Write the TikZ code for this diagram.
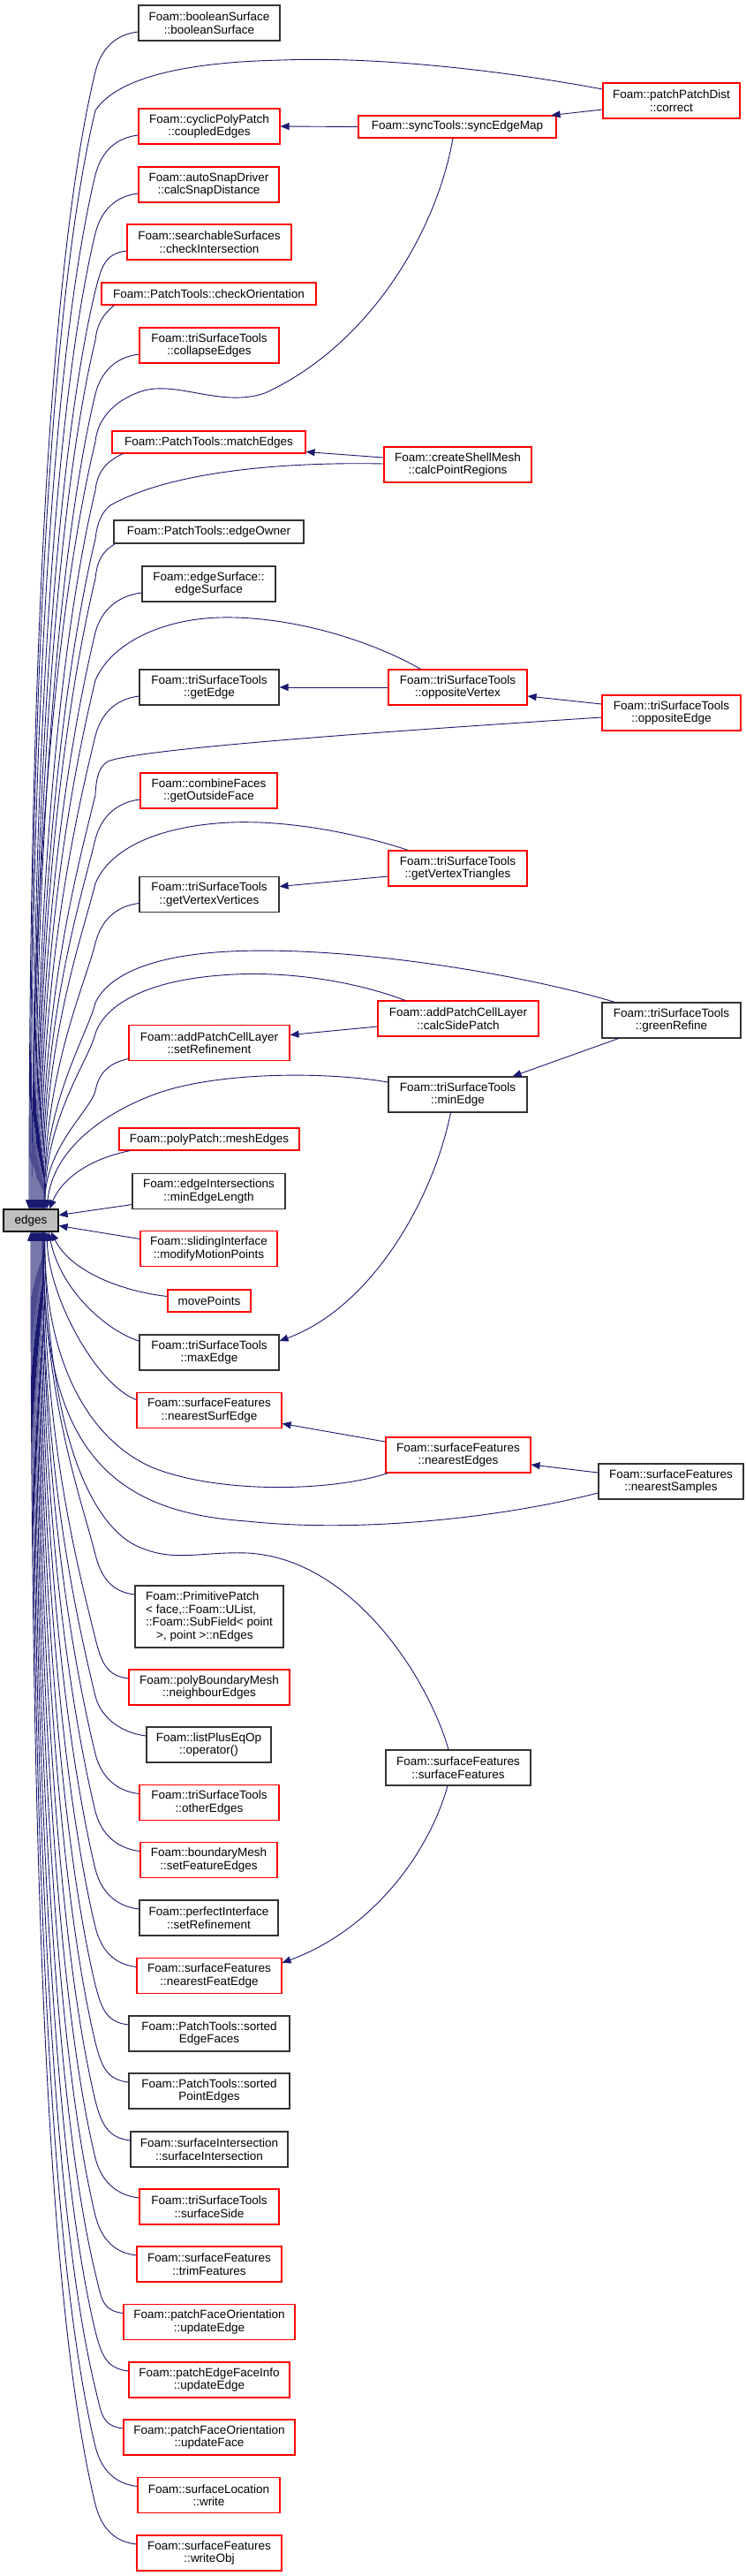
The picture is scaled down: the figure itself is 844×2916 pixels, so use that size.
\documentclass[tikz,border=0pt]{standalone}
\usepackage{fontspec}
\setmainfont{Liberation Sans}
\usetikzlibrary{arrows.meta,calc}
\definecolor{navy}{RGB}{25,25,112}
\newcommand\nodefont{\fontsize{13.5pt}{14.5pt}\selectfont}
% upper bundle: #1 start, #2 path to bend point (108,#3), #3 bend y, #4 end x on edges
\newcommand\ub[4]{\draw[edge] (#1) #2 .. controls ({108-0.037*(1369-(#3))},{(#3)+0.154*(1369-(#3))}) and (#4,{1369-0.52*(1369-(#3))}) .. ([xshift=#4pt-35pt]edges.north);}
\newcommand\uc[3]{\ub{[yshift=-10pt]#1.west}{.. controls +(-25,3) and (115,#2+28) .. (108,#2+55)}{#2+55}{#3}}
% lower bundle
\newcommand\lb[4]{\draw[edge] (#1) #2 .. controls ({108-0.037*((#3)-1394)},{(#3)-0.154*((#3)-1394)}) and (#4,{1394+0.52*((#3)-1394)}) .. ([xshift=#4pt-35pt]edges.south);}
\newcommand\lc[3]{\lb{[yshift=10pt]#1.west}{.. controls +(-25,-3) and (115,#2-28) .. (108,#2-55)}{#2-55}{#3}}
\begin{document}
\begin{tikzpicture}[x=1pt,y=-1pt,
 bx/.style={draw, line width=1.1pt, fill=white, align=center, inner sep=0pt, font=\nodefont},
 rn/.style={bx, draw=red},
 bn/.style={bx, draw=black!80},
 root/.style={bx, draw=black, fill=black!25},
 wh/.style 2 args={minimum width=#1pt, minimum height=#2pt},
 edge/.style={draw=navy, line width=0.9pt, -{Triangle[length=10pt,width=8pt]}}]
\useasboundingbox (0,0) rectangle (844,2916);
\fill[white] (0,0) rectangle (844,2916);

\node[bn, wh={160}{40}] (bS) at (237,26) {Foam::booleanSurface\\::booleanSurface};
\node[rn, wh={155}{40}] (pPD) at (760.5,114) {Foam::patchPatchDist\\::correct};
\node[rn, wh={160}{40}] (cPP) at (237,143) {Foam::cyclicPolyPatch\\::coupledEdges};
\node[rn, wh={224}{25}] (sEM) at (518,143.5) {Foam::syncTools::syncEdgeMap};
\node[rn, wh={159}{40}] (aSD) at (236.5,209) {Foam::autoSnapDriver\\::calcSnapDistance};
\node[rn, wh={186}{40}] (sSc) at (237,274) {Foam::searchableSurfaces\\::checkIntersection};
\node[rn, wh={243}{25}] (cO) at (236.5,332.5) {Foam::PatchTools::checkOrientation};
\node[rn, wh={158}{40}] (cE) at (237,391) {Foam::triSurfaceTools\\::collapseEdges};
\node[rn, wh={219}{25}] (mE) at (236.5,500.5) {Foam::PatchTools::matchEdges};
\node[rn, wh={167}{40}] (cPR) at (518.5,526) {Foam::createShellMesh\\::calcPointRegions};
\node[bn, wh={215}{26}] (eO) at (236.5,602) {Foam::PatchTools::edgeOwner};
\node[bn, wh={151}{40}] (eS) at (236.5,661) {Foam::edgeSurface::\\edgeSurface};
\node[bn, wh={158}{40}] (gE) at (237,778) {Foam::triSurfaceTools\\::getEdge};
\node[rn, wh={157}{40}] (oV) at (518.5,778) {Foam::triSurfaceTools\\::oppositeVertex};
\node[rn, wh={157}{40}] (oE) at (760.5,807) {Foam::triSurfaceTools\\::oppositeEdge};
\node[rn, wh={155}{40}] (gOF) at (236.5,895) {Foam::combineFaces\\::getOutsideFace};
\node[rn, wh={157}{40}] (gVT) at (518.5,983) {Foam::triSurfaceTools\\::getVertexTriangles};
\node[bn, wh={158}{40}] (gVV) at (237,1012.5) {Foam::triSurfaceTools\\::getVertexVertices};
\node[rn, wh={182}{40}] (cSP) at (519,1153) {Foam::addPatchCellLayer\\::calcSidePatch};
\node[bn, wh={157}{40}] (gR) at (760.5,1155) {Foam::triSurfaceTools\\::greenRefine};
\node[rn, wh={182}{40}] (sR) at (237,1180.5) {Foam::addPatchCellLayer\\::setRefinement};
\node[bn, wh={157}{40}] (mnE) at (518.5,1239) {Foam::triSurfaceTools\\::minEdge};
\node[rn, wh={204}{25}] (pME) at (237,1289.5) {Foam::polyPatch::meshEdges};
\node[bn, wh={173}{40}] (eIL) at (236.5,1348.5) {Foam::edgeIntersections\\::minEdgeLength};
\node[root, wh={62}{25}] (edges) at (35,1381.5) {edges};
\node[rn, wh={155}{40}] (sIm) at (236.5,1413.5) {Foam::slidingInterface\\::modifyMotionPoints};
\node[rn, wh={94}{25}] (mP) at (237,1472.5) {movePoints};
\node[bn, wh={158}{40}] (mxE) at (237,1531) {Foam::triSurfaceTools\\::maxEdge};
\node[rn, wh={164}{40}] (nSE) at (237,1596.5) {Foam::surfaceFeatures\\::nearestSurfEdge};
\node[rn, wh={164}{40}] (nEd) at (519,1647) {Foam::surfaceFeatures\\::nearestEdges};
\node[bn, wh={164}{40}] (nSa) at (760,1677) {Foam::surfaceFeatures\\::nearestSamples};
\node[bn, wh={168}{70}, align=left] (pP) at (237,1830) {Foam::PrimitivePatch\\{< face,::Foam::UList,}\\{::Foam::SubField< point}\\\hspace*{12pt}{>, point >::nEdges}};
\node[rn, wh={182}{40}] (pBM) at (237,1910) {Foam::polyBoundaryMesh\\::neighbourEdges};
\node[bn, wh={141}{40}] (lPE) at (236.5,1975) {Foam::listPlusEqOp\\::operator()};
\node[bn, wh={164}{40}] (sFF) at (519,2001) {Foam::surfaceFeatures\\::surfaceFeatures};
\node[rn, wh={158}{40}] (oEd) at (237,2040.5) {Foam::triSurfaceTools\\::otherEdges};
\node[rn, wh={155}{40}] (bMs) at (236.5,2105.5) {Foam::boundaryMesh\\::setFeatureEdges};
\node[bn, wh={157}{40}] (pI) at (236.5,2171) {Foam::perfectInterface\\::setRefinement};
\node[rn, wh={164}{40}] (nFE) at (237,2236.5) {Foam::surfaceFeatures\\::nearestFeatEdge};
\node[bn, wh={182}{40}] (sEF) at (237,2302) {Foam::PatchTools::sorted\\EdgeFaces};
\node[bn, wh={182}{40}] (sPE) at (237,2367) {Foam::PatchTools::sorted\\PointEdges};
\node[bn, wh={178}{40}] (sI) at (237,2433) {Foam::surfaceIntersection\\::surfaceIntersection};
\node[rn, wh={158}{40}] (sS) at (237,2498) {Foam::triSurfaceTools\\::surfaceSide};
\node[rn, wh={164}{40}] (tF) at (237,2563) {Foam::surfaceFeatures\\::trimFeatures};
\node[rn, wh={194}{40}] (pFOe) at (237,2628.5) {Foam::patchFaceOrientation\\::updateEdge};
\node[rn, wh={182}{40}] (pEFI) at (237,2694) {Foam::patchEdgeFaceInfo\\::updateEdge};
\node[rn, wh={194}{40}] (pFOf) at (237,2759) {Foam::patchFaceOrientation\\::updateFace};
\node[rn, wh={161}{40}] (sLw) at (236.5,2824.5) {Foam::surfaceLocation\\::write};
\node[rn, wh={164}{40}] (wO) at (237,2890) {Foam::surfaceFeatures\\::writeObj};

% ---- connectors between callers ----
\draw[edge] ([yshift=-10pt]pPD.west) -- ([xshift=-6pt]sEM.north east);
\draw[edge] (sEM.west) -- (cPP.east);
\draw[edge] ([yshift=8pt]cPR.west) -- ([yshift=-11pt]mE.east);
\draw[edge] (oV.west) -- (gE.east);
\draw[edge] ([yshift=10pt]oE.west) -- ([yshift=-10pt]oV.east);
\draw[edge] ([yshift=-9pt]gVT.west) -- ([yshift=9pt]gVV.east);
\draw[edge] ([yshift=-9pt]cSP.west) -- ([yshift=9pt]sR.east);
\draw[edge] ([xshift=-60pt]gR.south) -- ([xshift=62pt]mnE.north);
\draw[edge] ([xshift=-8pt]mnE.south) .. controls (490,1360) and (420,1480) .. ([yshift=13pt]mxE.east);
\draw[edge] ([yshift=15pt]nEd.west) -- ([yshift=-15pt]nSE.east);
\draw[edge] ([yshift=10pt]nSa.west) -- ([yshift=-11pt]nEd.east);
\draw[edge] ([xshift=-12pt]sFF.south) .. controls (485,2100) and (420,2185) .. ([yshift=-6pt]nFE.north east);

% ---- upper callers of edges ----
\uc{bS}{26}{33}
\ub{[yshift=13pt]pPD.west}{.. controls (560,78) and (420,64) .. (320,68) .. controls (220,70) and (135,85) .. (108,125)}{125}{34}
\uc{cPP}{143}{35}
\ub{[xshift=-5pt]sEM.south}{.. controls (495,260) and (420,390) .. (300,445) .. controls (250,462) and (200,430) .. (160,443) .. controls (125,455) and (110,478) .. (108,500)}{500}{36}
\uc{aSD}{209}{37}
\uc{sSc}{274}{38}
\ub{[xshift=15pt]cO.south west}{.. controls (118,355) and (110,365) .. (108,385)}{385}{39}
\uc{cE}{391}{40}
\ub{[xshift=13pt]mE.south west}{.. controls (120,522) and (110,535) .. (108,555)}{555}{41}
\ub{[yshift=1pt]cPR.west}{.. controls (340,523) and (200,530) .. (125,572) .. controls (115,580) and (110,592) .. (108,610)}{610}{42}
\ub{[xshift=2pt]eO.south west}{.. controls (115,625) and (110,635) .. (108,655)}{655}{43}
\uc{eS}{661}{44}
\ub{[xshift=-42pt]oV.north}{.. controls (420,725) and (330,697) .. (249,699) .. controls (180,701) and (125,730) .. (108,770)}{770}{45}
\uc{gE}{778}{46}
\ub{[yshift=-5pt]oE.west}{.. controls (500,824) and (160,846) .. (122,862) .. controls (112,868) and (109,880) .. (108,900)}{900}{47}
\uc{gOF}{895}{48}
\ub{[xshift=-56pt]gVT.north}{.. controls (410,945) and (330,928) .. (260,931) .. controls (180,935) and (125,960) .. (108,1000)}{1000}{49}
\uc{gVV}{1012.5}{50}
\ub{[xshift=-64pt]gR.north}{.. controls (600,1105) and (400,1070) .. (260,1077) .. controls (180,1081) and (125,1100) .. (108,1135)}{1135}{50}
\ub{[xshift=-60pt]cSP.north}{.. controls (400,1110) and (320,1098) .. (250,1104) .. controls (170,1110) and (120,1135) .. (108,1170)}{1170}{51}
\ub{[yshift=-18pt]sR.west}{.. controls (125,1203) and (112,1213) .. (108,1235)}{1235}{51}
\draw[edge] ([yshift=14pt]mnE.west) .. controls (370,1213) and (250,1213) .. (180,1237) .. controls (120,1258) and (60,1300) .. ([xshift=18pt]edges.north);
\draw[edge] ([xshift=13pt]pME.south west) .. controls (100,1312) and (70,1335) .. ([xshift=21pt]edges.north);

% ---- side callers ----
\draw[edge] ([yshift=-15pt]eIL.west) -- ([yshift=6pt]edges.east);
\draw[edge] ([yshift=11pt]sIm.west) -- ([yshift=-6pt]edges.east);

% ---- lower callers of edges ----
\draw[edge] ([yshift=5pt]mP.west) .. controls (140,1462) and (80,1440) .. ([xshift=23pt]edges.south);
\draw[edge] ([yshift=13pt]mxE.west) .. controls (125,1508) and (70,1465) .. ([xshift=20pt]edges.south);
\draw[edge] ([yshift=12pt]nSE.west) .. controls (110,1568) and (55,1470) .. ([xshift=18pt]edges.south);
\draw[edge] ([xshift=3pt]nEd.south west) .. controls (370,1690) and (240,1690) .. (170,1660) .. controls (100,1628) and (50,1540) .. ([xshift=16pt]edges.south);
\draw[edge] ([yshift=-13pt]nSa.west) .. controls (560,1720) and (400,1735) .. (280,1722) .. controls (130,1712) and (45,1645) .. ([xshift=15pt]edges.south);
\draw[edge] ([xshift=-11pt]sFF.north) .. controls (485,1900) and (400,1765) .. (281,1758) .. controls (230,1756) and (200,1768) .. (162,1753) .. controls (110,1735) and (55,1640) .. ([xshift=15pt]edges.south);
\lb{[yshift=25pt]pP.west}{.. controls +(-25,-3) and (115,1787) .. (108,1760)}{1760}{49}
\lc{pBM}{1910}{49}
\lc{lPE}{1975}{48}
\lc{oEd}{2040.5}{48}
\lc{bMs}{2105.5}{47}
\lc{pI}{2171}{46}
\lc{nFE}{2236.5}{45}
\lc{sEF}{2302}{44}
\lc{sPE}{2367}{43}
\lc{sI}{2433}{42}
\lc{sS}{2498}{41}
\lc{tF}{2563}{40}
\lc{pFOe}{2628.5}{39}
\lc{pEFI}{2694}{38}
\lc{pFOf}{2759}{37}
\lc{sLw}{2824.5}{36}
\lc{wO}{2890}{35}
\end{tikzpicture}
\end{document}
